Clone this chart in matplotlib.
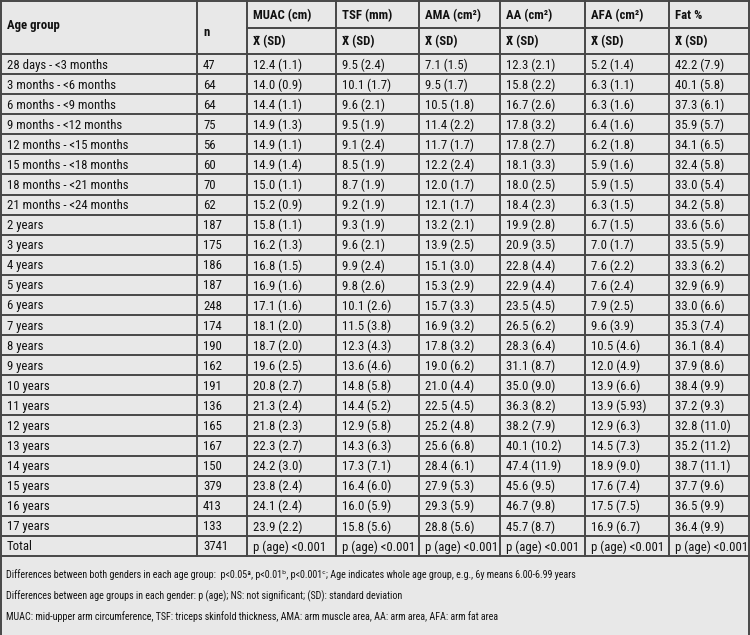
import matplotlib

matplotlib.use("Agg")

import matplotlib.pyplot as plt
from matplotlib import font_manager


AGE_GROUPS = [
    "28 days - <3 months", "3 months - <6 months", "6 months - <9 months",
    "9 months - <12 months", "12 months - <15 months", "15 months - <18 months",
    "18 months - <21 months", "21 months - <24 months",
    "2 years", "3 years", "4 years", "5 years", "6 years", "7 years", "8 years",
    "9 years", "10 years", "11 years", "12 years", "13 years", "14 years",
    "15 years", "16 years", "17 years",
]
N_VALUES = [47, 64, 64, 75, 56, 60, 70, 62, 187, 175, 186, 187, 248, 174, 190,
            162, 191, 136, 165, 167, 150, 379, 413, 133]
N_TOTAL = 3741

MUAC = ["12.4 (1.1)", "14.0 (0.9)", "14.4 (1.1)", "14.9 (1.3)", "14.9 (1.1)", "14.9 (1.4)",
        "15.0 (1.1)", "15.2 (0.9)", "15.8 (1.1)", "16.2 (1.3)", "16.8 (1.5)", "16.9 (1.6)",
        "17.1 (1.6)", "18.1 (2.0)", "18.7 (2.0)", "19.6 (2.5)", "20.8 (2.7)", "21.3 (2.4)",
        "21.8 (2.3)", "22.3 (2.7)", "24.2 (3.0)", "23.8 (2.4)", "24.1 (2.4)", "23.9 (2.2)"]
TSF = ["9.5 (2.4)", "10.1 (1.7)", "9.6 (2.1)", "9.5 (1.9)", "9.1 (2.4)", "8.5 (1.9)",
       "8.7 (1.9)", "9.2 (1.9)", "9.3 (1.9)", "9.6 (2.1)", "9.9 (2.4)", "9.8 (2.6)",
       "10.1 (2.6)", "11.5 (3.8)", "12.3 (4.3)", "13.6 (4.6)", "14.8 (5.8)", "14.4 (5.2)",
       "12.9 (5.8)", "14.3 (6.3)", "17.3 (7.1)", "16.4 (6.0)", "16.0 (5.9)", "15.8 (5.6)"]
AMA = ["7.1 (1.5)", "9.5 (1.7)", "10.5 (1.8)", "11.4 (2.2)", "11.7 (1.7)", "12.2 (2.4)",
       "12.0 (1.7)", "12.1 (1.7)", "13.2 (2.1)", "13.9 (2.5)", "15.1 (3.0)", "15.3 (2.9)",
       "15.7 (3.3)", "16.9 (3.2)", "17.8 (3.2)", "19.0 (6.2)", "21.0 (4.4)", "22.5 (4.5)",
       "25.2 (4.8)", "25.6 (6.8)", "28.4 (6.1)", "27.9 (5.3)", "29.3 (5.9)", "28.8 (5.6)"]
AA = ["12.3 (2.1)", "15.8 (2.2)", "16.7 (2.6)", "17.8 (3.2)", "17.8 (2.7)", "18.1 (3.3)",
      "18.0 (2.5)", "18.4 (2.3)", "19.9 (2.8)", "20.9 (3.5)", "22.8 (4.4)", "22.9 (4.4)",
      "23.5 (4.5)", "26.5 (6.2)", "28.3 (6.4)", "31.1 (8.7)", "35.0 (9.0)", "36.3 (8.2)",
      "38.2 (7.9)", "40.1 (10.2)", "47.4 (11.9)", "45.6 (9.5)", "46.7 (9.8)", "45.7 (8.7)"]
AFA = ["5.2 (1.4)", "6.3 (1.1)", "6.3 (1.6)", "6.4 (1.6)", "6.2 (1.8)", "5.9 (1.6)",
       "5.9 (1.5)", "6.3 (1.5)", "6.7 (1.5)", "7.0 (1.7)", "7.6 (2.2)", "7.6 (2.4)",
       "7.9 (2.5)", "9.6 (3.9)", "10.5 (4.6)", "12.0 (4.9)", "13.9 (6.6)", "13.9 (5.93)",
       "12.9 (6.3)", "14.5 (7.3)", "18.9 (9.0)", "17.6 (7.4)", "17.5 (7.5)", "16.9 (6.7)"]
FAT = ["42.2 (7.9)", "40.1 (5.8)", "37.3 (6.1)", "35.9 (5.7)", "34.1 (6.5)", "32.4 (5.8)",
       "33.0 (5.4)", "34.2 (5.8)", "33.6 (5.6)", "33.5 (5.9)", "33.3 (6.2)", "32.9 (6.9)",
       "33.0 (6.6)", "35.3 (7.4)", "36.1 (8.4)", "37.9 (8.6)", "38.4 (9.9)", "37.2 (9.3)",
       "32.8 (11.0)", "35.2 (11.2)", "38.7 (11.1)", "37.7 (9.6)", "36.5 (9.9)", "36.4 (9.9)"]

MEASURES = ["MUAC (cm)", "TSF (mm)", "AMA (cm\u00b2)", "AA (cm\u00b2)", "AFA (cm\u00b2)", "Fat %"]
SUBHEADER = "X\u0304 (SD)"
TOTAL_TEXT = "p (age) <0.001"
FOOTNOTES = [
    "Differences between both genders in each age group:  p<0.05\u00aa, p<0.01\u1d47, "
    "p<0.001\u1d9c; Age indicates whole age group, e.g., 6y means 6.00-6.99 years",
    "Differences between age groups in each gender: p (age); NS: not significant; "
    "(SD): standard deviation",
    "MUAC: mid-upper arm circumference, TSF: triceps skinfold thickness, AMA: arm muscle area, "
    "AA: arm area, AFA: arm fat area",
]

# layout (pixels)
W, H = 750, 635
COL_EDGES = [1, 197, 247, 336, 419, 500, 585, 669, 749]
HEAD_TOP, HEAD_MID, HEAD_BOT = 1, 28, 54
TABLE_BOT = 556
BG = "#e8e8e8"
LINE = "#474747"

installed = {f.name for f in font_manager.fontManager.ttflist}
main_font = "DejaVu Sans"
for cand in ["Roboto Condensed", "Archivo Narrow", "PT Sans Narrow",
             "Liberation Sans Narrow", "Open Sans Condensed"]:
    if cand in installed:
        main_font = cand
        break
plt.rcParams["font.family"] = [main_font, "DejaVu Sans"]
if main_font == "DejaVu Sans":
    plt.rcParams["font.stretch"] = "condensed"

fig = plt.figure(figsize=(W / 100, H / 100), dpi=100, facecolor=BG)
ax = fig.add_axes([0, 0, 1, 1])
ax.set_xlim(0, W)
ax.set_ylim(H, 0)
ax.axis("off")

n_rows = len(AGE_GROUPS) + 1
row_h = (TABLE_BOT - HEAD_BOT) / n_rows
lw = 1.4
fs = 9.2
ink = "#111111"

# grid lines
ax.plot([COL_EDGES[0], COL_EDGES[-1]], [HEAD_TOP, HEAD_TOP], color=LINE, lw=lw)
ax.plot([COL_EDGES[2], COL_EDGES[-1]], [HEAD_MID, HEAD_MID], color=LINE, lw=lw)
for i in range(n_rows + 1):
    y = HEAD_BOT + i * row_h
    ax.plot([COL_EDGES[0], COL_EDGES[-1]], [y, y], color=LINE, lw=lw)
for x in COL_EDGES[1:-1]:
    ax.plot([x, x], [HEAD_TOP, TABLE_BOT], color=LINE, lw=lw)
ax.plot([COL_EDGES[0], COL_EDGES[0]], [HEAD_TOP, H], color=LINE, lw=lw)
ax.plot([COL_EDGES[-1], COL_EDGES[-1]], [HEAD_TOP, H], color=LINE, lw=lw)

pad = 6
# header
ax.text(COL_EDGES[0] + pad, 26, "Age group", fontsize=fs, fontweight="bold", va="center",
        color=ink)
ax.text(COL_EDGES[1] + pad, 33, "n", fontsize=fs, fontweight="bold", va="center", color=ink)
for j, label in enumerate(MEASURES):
    x = COL_EDGES[j + 2] + pad
    ax.text(x, (HEAD_TOP + HEAD_MID) / 2 + 1, label, fontsize=fs, fontweight="bold",
            va="center", color=ink)
    ax.text(x, (HEAD_MID + HEAD_BOT) / 2 + 1, SUBHEADER, fontsize=fs, fontweight="bold",
            va="center", color=ink)

# body
columns = [MUAC, TSF, AMA, AA, AFA, FAT]
for i, age in enumerate(AGE_GROUPS):
    y = HEAD_BOT + (i + 0.5) * row_h + 1
    ax.text(COL_EDGES[0] + pad, y, age, fontsize=fs, va="center", color=ink)
    ax.text(COL_EDGES[1] + pad, y, str(N_VALUES[i]), fontsize=fs, va="center", color=ink)
    for j, col in enumerate(columns):
        ax.text(COL_EDGES[j + 2] + pad, y, col[i], fontsize=fs, va="center", color=ink)

y = HEAD_BOT + (n_rows - 0.5) * row_h + 1
ax.text(COL_EDGES[0] + pad, y, "Total", fontsize=fs, va="center", color=ink)
ax.text(COL_EDGES[1] + pad, y, str(N_TOTAL), fontsize=fs, va="center", color=ink)
for j in range(len(MEASURES)):
    ax.text(COL_EDGES[j + 2] + pad, y, TOTAL_TEXT, fontsize=fs, va="center", color=ink)

# footnotes
for k, note in enumerate(FOOTNOTES):
    ax.text(COL_EDGES[0] + 5, 575 + k * 21, note, fontsize=7.2, va="center", color=ink)

fig.savefig("out.png", dpi=100, facecolor=BG)
